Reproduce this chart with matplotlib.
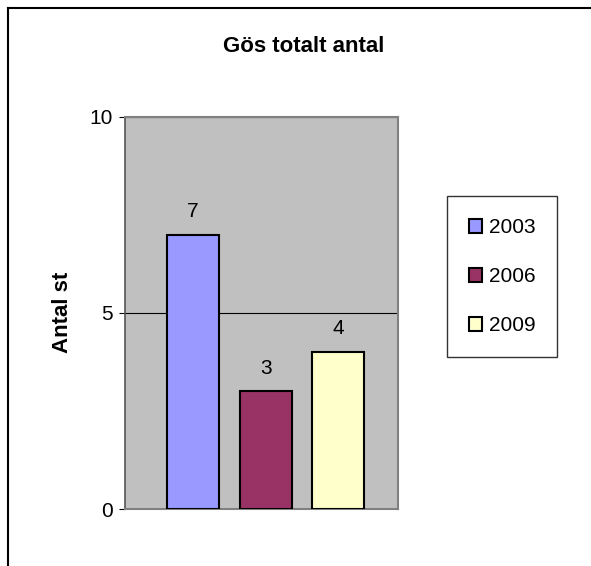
import matplotlib.pyplot as plt
from matplotlib.lines import Line2D

# --- data ---
years = ["2003", "2006", "2009"]
counts = [7, 3, 4]
colors = ["#9999FF", "#993366", "#FFFFCC"]

plt.rcParams["font.family"] = ["Liberation Sans", "DejaVu Sans"]

fig = plt.figure(figsize=(5.91, 5.66), dpi=100)
ax = fig.add_axes([0.2115, 0.1007, 0.4619, 0.6926])
ax.set_facecolor("#C0C0C0")

step = 0.2655
width = 0.19
for i, (yr, val, col) in enumerate(zip(years, counts, colors)):
    x = 0.515 + (i - 1) * step
    ax.bar(x, val, width=width, color=col, edgecolor="black", linewidth=1.5,
           label=yr, zorder=3)
    ax.annotate(str(val), (x, val), xytext=(0, 10), textcoords="offset points",
                ha="center", va="bottom", fontsize=15)

ax.set_xlim(0, 1)
ax.set_ylim(0, 10)
ax.set_yticks([0, 5, 10])
ax.set_xticks([])
ax.grid(axis="y", color="black", linewidth=0.8, zorder=1)
ax.tick_params(axis="y", labelsize=15, length=4, direction="out", pad=5)
for s in ["top", "right", "bottom"]:
    ax.spines[s].set_color("#808080")
    ax.spines[s].set_linewidth(1.5)
ax.spines["left"].set_color("#555555")
ax.spines["left"].set_linewidth(1.2)

fig.text(63 / 591, 1 - 312 / 566, "Antal st", rotation=90, ha="center",
         va="center", fontsize=16, fontweight="bold")
fig.text(303.5 / 591, 1 - 47 / 566, "Gös totalt antal", ha="center",
         va="center", fontsize=16, fontweight="bold")

leg = fig.legend(loc="upper left", bbox_to_anchor=(447 / 591, 1 - 196 / 566),
                 fontsize=15, frameon=True, fancybox=False, edgecolor="black",
                 handlelength=0.65, handleheight=0.65, handletextpad=0.3,
                 labelspacing=1.45, borderpad=1.05, borderaxespad=0)
leg.get_frame().set_linewidth(1.0)

# outer chart frame (top and left edges)
fig.add_artist(Line2D([8 / 591, 1], [1 - 8 / 566, 1 - 8 / 566],
                      color="black", linewidth=1.5, transform=fig.transFigure))
fig.add_artist(Line2D([8 / 591, 8 / 591], [0, 1 - 8 / 566],
                      color="black", linewidth=1.5, transform=fig.transFigure))

fig.savefig("out.png", dpi=100)
